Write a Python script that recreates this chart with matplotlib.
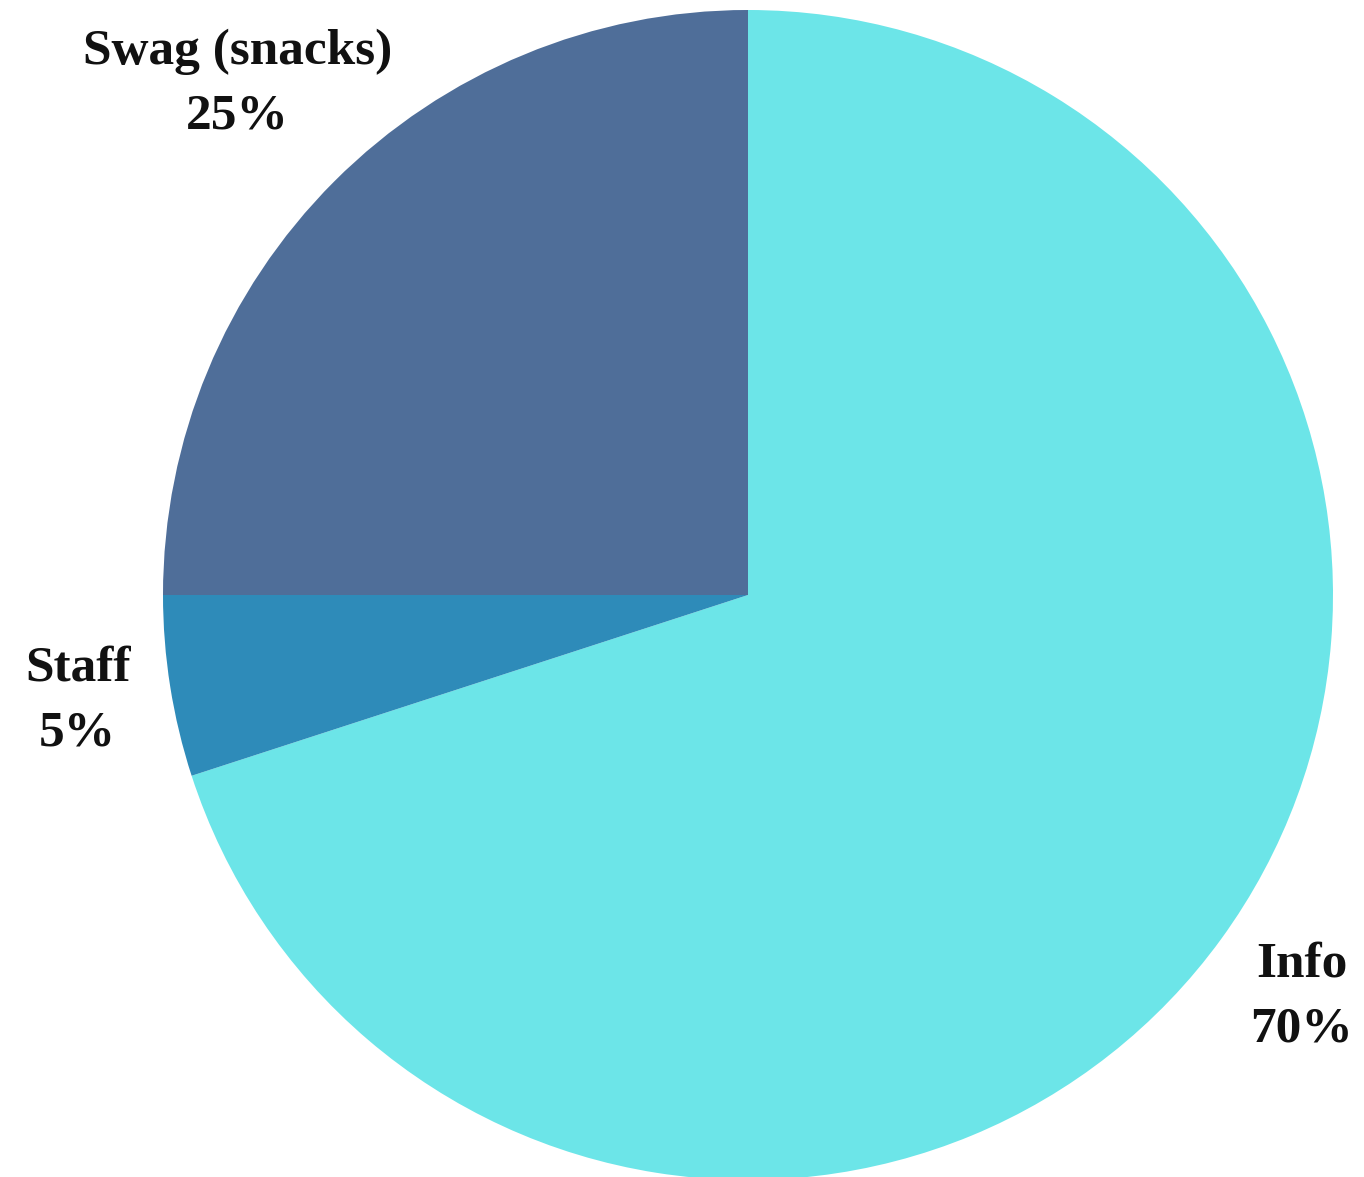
"""Budget split pie chart: Info / Staff / Swag (snacks)."""

import numpy as np
import matplotlib
matplotlib.use("Agg")
import matplotlib.pyplot as plt

LABELS = ["Info", "Staff", "Swag (snacks)"]
SHARES = [70, 5, 25]
COLORS = ["#6ce5e8", "#2e8bb9", "#4f6e99"]
LABEL_DIST = [1.17, 1.16, 1.235]

W, H = 1364, 1177
CX, CY, R = 748, H - 595, 585

fig = plt.figure(figsize=(W / 100, H / 100), dpi=100)
ax = fig.add_axes([0, 0, 1, 1])

wedges, _ = ax.pie(SHARES, colors=COLORS, startangle=90, counterclock=False,
                   center=(CX, CY), radius=R, frame=True,
                   wedgeprops=dict(linewidth=0))
ax.set_xlim(0, W)
ax.set_ylim(0, H)
ax.set_aspect("equal")
ax.axis("off")

for w, lab, pct, d in zip(wedges, LABELS, SHARES, LABEL_DIST):
    mid = np.deg2rad((w.theta1 + w.theta2) / 2)
    x = CX + d * R * np.cos(mid)
    y = CY + d * R * np.sin(mid)
    ax.text(x, y, f"{lab}\n{pct}%", ha="center", va="center",
            fontsize=37, family="Liberation Serif", weight="bold",
            linespacing=1.55, color="#111111")

fig.savefig("out.png", dpi=100)
